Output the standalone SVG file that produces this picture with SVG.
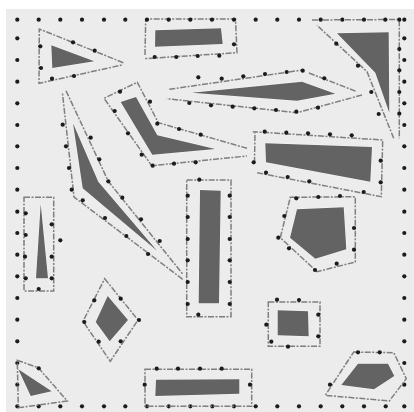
<svg xmlns="http://www.w3.org/2000/svg" width="414" height="412" viewBox="0 0 414 412">
<defs>
<style>
.d{fill:#636363;stroke:#f7f7f7;stroke-width:1;paint-order:stroke}
.o{fill:none;stroke:#7f7f7f;stroke-width:1.5;stroke-dasharray:6 1.5 2 1.5}
circle{fill:#1c1c1c}
</style>
<filter id="soft" x="0" y="0" width="100%" height="100%"><feGaussianBlur stdDeviation="0.45"/></filter>
</defs>
<rect width="414" height="412" fill="#fff"/>
<rect x="6" y="9" width="408" height="403" fill="#ececec"/>
<g filter="url(#soft)">
<g id="grid-dots">
<circle cx="17.3" cy="19.7" r="2.1"/><circle cx="38.7" cy="19.7" r="2.1"/><circle cx="60.3" cy="19.7" r="2.1"/><circle cx="82" cy="19.7" r="2.1"/><circle cx="104" cy="19.7" r="2.1"/><circle cx="125.3" cy="19.7" r="2.1"/><circle cx="255.7" cy="19.7" r="2.1"/><circle cx="277.3" cy="19.7" r="2.1"/><circle cx="299" cy="19.7" r="2.1"/><circle cx="404.3" cy="19.7" r="2.1"/>
<circle cx="17.3" cy="38.3" r="2.1"/><circle cx="17.3" cy="60" r="2.1"/><circle cx="17.3" cy="81.7" r="2.1"/><circle cx="17.3" cy="103.3" r="2.1"/><circle cx="17.3" cy="125" r="2.1"/><circle cx="17.3" cy="146.3" r="2.1"/><circle cx="17.3" cy="168" r="2.1"/><circle cx="17.3" cy="189.7" r="2.1"/><circle cx="17.3" cy="211.7" r="2.1"/><circle cx="17.3" cy="233" r="2.1"/><circle cx="17.3" cy="254.7" r="2.1"/><circle cx="17.3" cy="276.3" r="2.1"/><circle cx="17.3" cy="298" r="2.1"/><circle cx="17.3" cy="319.7" r="2.1"/><circle cx="17.3" cy="341.3" r="2.1"/><circle cx="17.3" cy="363" r="2.1"/><circle cx="17.3" cy="384.7" r="2.1"/><circle cx="17.3" cy="406.3" r="2.1"/>
<circle cx="404.3" cy="38.3" r="2.1"/><circle cx="404.3" cy="60" r="2.1"/><circle cx="404.3" cy="81.7" r="2.1"/><circle cx="404.3" cy="103.3" r="2.1"/><circle cx="404.3" cy="125" r="2.1"/><circle cx="404.3" cy="146.3" r="2.1"/><circle cx="404.3" cy="168" r="2.1"/><circle cx="404.3" cy="189.7" r="2.1"/><circle cx="404.3" cy="211.7" r="2.1"/><circle cx="404.3" cy="233" r="2.1"/><circle cx="404.3" cy="254.7" r="2.1"/><circle cx="404.3" cy="276.3" r="2.1"/><circle cx="404.3" cy="298" r="2.1"/><circle cx="404.3" cy="319.7" r="2.1"/><circle cx="404.3" cy="341.3" r="2.1"/><circle cx="404.3" cy="363" r="2.1"/><circle cx="404.3" cy="384.7" r="2.1"/><circle cx="404.3" cy="406.3" r="2.1"/>
<circle cx="38.7" cy="406.3" r="2.1"/><circle cx="60.3" cy="406.3" r="2.1"/><circle cx="82" cy="406.3" r="2.1"/><circle cx="104" cy="406.3" r="2.1"/><circle cx="125.3" cy="406.3" r="2.1"/><circle cx="147" cy="406.3" r="2.1"/><circle cx="168.7" cy="406.3" r="2.1"/><circle cx="190.3" cy="406.3" r="2.1"/><circle cx="212.3" cy="406.3" r="2.1"/><circle cx="234" cy="406.3" r="2.1"/><circle cx="255.7" cy="406.3" r="2.1"/><circle cx="277.3" cy="406.3" r="2.1"/><circle cx="299" cy="406.3" r="2.1"/><circle cx="320.7" cy="406.3" r="2.1"/><circle cx="342.3" cy="406.3" r="2.1"/><circle cx="364" cy="406.3" r="2.1"/><circle cx="385.7" cy="406.3" r="2.1"/>
</g>
<g id="shape-1"><polygon class="d" points="51.3,45.3 94.3,61.3 52.3,68"/><path class="o" d="M123.3,62.7 39.3,29 39,83.3 122,65"/>
<circle cx="40.3" cy="46.3" r="2.1"/><circle cx="41" cy="68" r="2.1"/><circle cx="52" cy="78.7" r="2.1"/><circle cx="74" cy="76" r="2.1"/><circle cx="94.7" cy="50.7" r="2.1"/><circle cx="73" cy="42.3" r="2.1"/></g>
<g id="shape-2"><polygon class="d" points="155.3,30.3 221,28.3 222.7,44 155,46.7"/><path class="o" d="M145,55 145.7,19 235.5,19 237,52.7 144,58.7"/>
<circle cx="147" cy="19.7" r="2.1"/><circle cx="168.7" cy="19.7" r="2.1"/><circle cx="190.3" cy="19.7" r="2.1"/><circle cx="212" cy="19.7" r="2.1"/><circle cx="234" cy="19.7" r="2.1"/><circle cx="234" cy="44.3" r="2.1"/><circle cx="219.3" cy="55.7" r="2.1"/><circle cx="197.7" cy="56" r="2.1"/><circle cx="176.3" cy="57" r="2.1"/><circle cx="154.7" cy="57" r="2.1"/></g>
<g id="shape-3"><polygon class="d" points="337,33.3 388.7,32.3 389.3,112.7 375.3,72.7"/><path class="o" d="M312,20 399.3,19.5 399.3,138.3M393.7,138.3 367,71.7 317,25.3"/>
<circle cx="320.7" cy="19.7" r="2.1"/><circle cx="342.3" cy="19.7" r="2.1"/><circle cx="364" cy="19.7" r="2.1"/><circle cx="385.3" cy="19.7" r="2.1"/><circle cx="399.3" cy="19.7" r="2.1"/><circle cx="399.3" cy="49" r="2.1"/><circle cx="399.3" cy="70.3" r="2.1"/><circle cx="399.3" cy="92" r="2.1"/><circle cx="399.3" cy="113.7" r="2.1"/><circle cx="336.3" cy="43.7" r="2.1"/><circle cx="358" cy="65.7" r="2.1"/><circle cx="371.3" cy="92" r="2.1"/><circle cx="378.7" cy="114" r="2.1"/></g>
<g id="shape-4"><polygon class="d" points="191.7,92.7 302,81.7 335.3,93.7 297,100.7"/><path class="o" d="M169.3,89.3 302.7,70M309,73 357,91.7M362,95 297,112.7 166.7,98.7"/>
<circle cx="198.3" cy="77.3" r="2.1"/><circle cx="189.3" cy="103" r="2.1"/><circle cx="221.7" cy="78.7" r="2.1"/><circle cx="243.3" cy="76.3" r="2.1"/><circle cx="265" cy="74" r="2.1"/><circle cx="286.7" cy="72" r="2.1"/><circle cx="302.7" cy="70.7" r="2.1"/><circle cx="324.3" cy="78.3" r="2.1"/><circle cx="211" cy="105.3" r="2.1"/><circle cx="232.7" cy="106.7" r="2.1"/><circle cx="254.3" cy="108.3" r="2.1"/><circle cx="276" cy="110" r="2.1"/><circle cx="296.3" cy="111.7" r="2.1"/><circle cx="318" cy="107.7" r="2.1"/></g>
<g id="shape-5"><polygon class="d" points="120.7,102 136,97 157.3,135.3 215.3,149 152.3,154.7"/><path class="o" d="M247,148.3 158.3,122.7 137.3,82.3 104,98.3 151.7,165.7 247,156"/>
<circle cx="120" cy="91.7" r="2.1"/><circle cx="150" cy="101.7" r="2.1"/><circle cx="157.3" cy="123.7" r="2.1"/><circle cx="179" cy="129" r="2.1"/><circle cx="200.7" cy="134.7" r="2.1"/><circle cx="114.7" cy="111" r="2.1"/><circle cx="128" cy="133.3" r="2.1"/><circle cx="141.7" cy="154.7" r="2.1"/><circle cx="152.7" cy="165.7" r="2.1"/><circle cx="174" cy="163.7" r="2.1"/><circle cx="195.7" cy="162.3" r="2.1"/></g>
<g id="shape-6"><polygon class="d" points="73,123.3 98.3,181.7 157.3,251 82.7,188.3"/><path class="o" d="M66,90.7 108.3,181.3 182.7,274M182.7,279.3 74,197 62.3,92"/>
<circle cx="62.7" cy="124.7" r="2.1"/><circle cx="66" cy="146.3" r="2.1"/><circle cx="69" cy="168" r="2.1"/><circle cx="71.7" cy="189.7" r="2.1"/><circle cx="82.7" cy="200.3" r="2.1"/><circle cx="105" cy="218" r="2.1"/><circle cx="126.3" cy="236" r="2.1"/><circle cx="148" cy="254" r="2.1"/><circle cx="90.7" cy="137.7" r="2.1"/><circle cx="99.3" cy="159.3" r="2.1"/><circle cx="108.3" cy="181.3" r="2.1"/><circle cx="122.3" cy="197.7" r="2.1"/><circle cx="141" cy="219.3" r="2.1"/><circle cx="159.7" cy="241" r="2.1"/></g>
<g id="shape-7"><polygon class="d" points="40.7,204 48,278.3 36,278.3"/><rect class="o" x="24" y="197.3" width="29.7" height="93.7"/>
<circle cx="25.7" cy="213.3" r="2.1"/><circle cx="25.7" cy="235" r="2.1"/><circle cx="25" cy="256.7" r="2.1"/><circle cx="25.7" cy="278.3" r="2.1"/><circle cx="38.7" cy="289" r="2.1"/><circle cx="51.7" cy="278.3" r="2.1"/><circle cx="51.7" cy="256.7" r="2.1"/><circle cx="51.7" cy="224.3" r="2.1"/><circle cx="60.3" cy="240.3" r="2.1"/></g>
<g id="shape-8"><polygon class="d" points="200,190 220.7,190.7 219,303.3 198.7,303.3"/><rect class="o" x="186.7" y="180" width="44.3" height="136.7"/>
<circle cx="199.3" cy="179.7" r="2.1"/><circle cx="187.7" cy="195.7" r="2.1"/><circle cx="187.7" cy="217" r="2.1"/><circle cx="187.7" cy="239" r="2.1"/><circle cx="187.7" cy="260.3" r="2.1"/><circle cx="187.7" cy="282" r="2.1"/><circle cx="187.7" cy="304" r="2.1"/><circle cx="198.3" cy="314.7" r="2.1"/><circle cx="229.7" cy="304" r="2.1"/><circle cx="229.7" cy="282" r="2.1"/><circle cx="229.7" cy="260.3" r="2.1"/><circle cx="229.7" cy="239" r="2.1"/><circle cx="229.7" cy="217" r="2.1"/><circle cx="229.7" cy="195.7" r="2.1"/></g>
<g id="shape-9"><polygon class="d" points="265.3,143.3 372,147 370.3,181.7 266,162.3"/><path class="o" d="M254.5,163 255,131.7 252.7,131.7 382.7,140 381.3,196.7 257,172.7"/>
<circle cx="264.7" cy="131.7" r="2.1"/><circle cx="286.3" cy="132.7" r="2.1"/><circle cx="308" cy="133.3" r="2.1"/><circle cx="330" cy="134.3" r="2.1"/><circle cx="351.7" cy="135.3" r="2.1"/><circle cx="253.7" cy="162.3" r="2.1"/><circle cx="266" cy="172.7" r="2.1"/><circle cx="287.7" cy="177" r="2.1"/><circle cx="309.3" cy="181.3" r="2.1"/><circle cx="363.7" cy="192" r="2.1"/><circle cx="380.7" cy="182.3" r="2.1"/><circle cx="380.7" cy="160.7" r="2.1"/></g>
<g id="shape-10"><polygon class="d" points="297,209.3 343.7,207.3 346.3,249.3 315.3,258.7 290,237.7"/><polygon class="o" points="290.3,197.3 355.3,196.7 355.3,262 317,271.7 280.3,237.7"/>
<circle cx="296.3" cy="198.3" r="2.1"/><circle cx="318.3" cy="197" r="2.1"/><circle cx="340" cy="196" r="2.1"/><circle cx="284.3" cy="216" r="2.1"/><circle cx="278.3" cy="237.7" r="2.1"/><circle cx="289" cy="248.3" r="2.1"/><circle cx="315" cy="270" r="2.1"/><circle cx="336.7" cy="263.7" r="2.1"/><circle cx="354" cy="249.7" r="2.1"/><circle cx="354" cy="228" r="2.1"/></g>
<g id="shape-11"><polygon class="d" points="277.7,310.3 308,311.3 308.7,336.3 277.7,335.3"/><rect class="o" x="268.3" y="302" width="51.7" height="44.3"/>
<circle cx="277" cy="299.7" r="2.1"/><circle cx="299" cy="300" r="2.1"/><circle cx="318.3" cy="314.7" r="2.1"/><circle cx="318.3" cy="336.3" r="2.1"/><circle cx="266.3" cy="324.7" r="2.1"/><circle cx="271.3" cy="341.7" r="2.1"/><circle cx="288" cy="346.7" r="2.1"/></g>
<g id="shape-12"><polygon class="d" points="107.7,296 128,320 109.7,341.3 95.7,322"/><polygon class="o" points="104.7,278.7 138,320 110.3,361.3 83,321.3"/>
<circle cx="94.3" cy="300.3" r="2.1"/><circle cx="120.7" cy="298.7" r="2.1"/><circle cx="139" cy="320" r="2.1"/><circle cx="84.3" cy="322" r="2.1"/><circle cx="98.7" cy="341.7" r="2.1"/><circle cx="120.7" cy="341.3" r="2.1"/></g>
<g id="shape-13"><polygon class="d" points="18.3,369.3 51.7,391.3 30.7,396"/><polygon class="o" points="17.3,360.3 38.3,367.7 67.3,401 18.3,407.7"/>
<circle cx="38.7" cy="368.3" r="2.1"/></g>
<g id="shape-14"><polygon class="d" points="156,379.7 239.3,379.3 239.3,393.7 155.3,396"/><rect class="o" x="145" y="369.3" width="106.7" height="37"/>
<circle cx="156.7" cy="368.7" r="2.1"/><circle cx="178" cy="368.7" r="2.1"/><circle cx="200" cy="368.7" r="2.1"/><circle cx="221.7" cy="368.7" r="2.1"/><circle cx="250" cy="384.7" r="2.1"/><circle cx="144.7" cy="384.7" r="2.1"/></g>
<g id="shape-15"><polygon class="d" points="358,363.7 388,363.7 394.3,376 374,389.3 341.3,385"/><polygon class="o" points="353.7,352 393.7,352.7 406.3,378.7 389.3,401 325.3,395.3"/>
<circle cx="358" cy="352.3" r="2.1"/><circle cx="379.7" cy="352.3" r="2.1"/><circle cx="330" cy="384.7" r="2.1"/></g>
</g>
</svg>
